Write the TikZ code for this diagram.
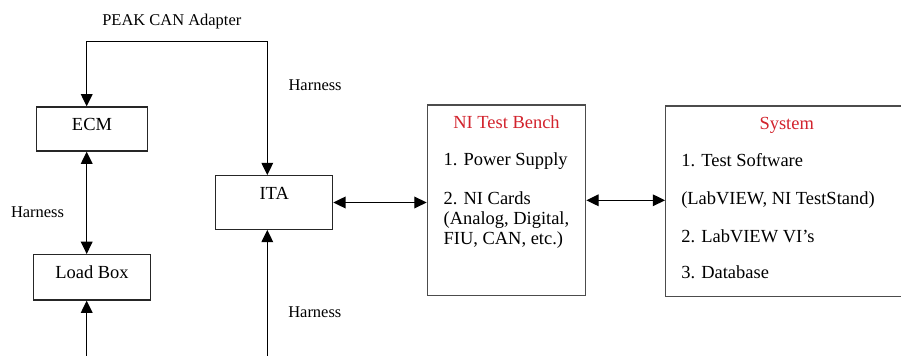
\documentclass[tikz,border=0pt]{standalone}
\usepackage{fontspec}
\setmainfont{Liberation Serif}
\usepackage{xcolor}
\usetikzlibrary{arrows.meta, calc}
\definecolor{benchred}{RGB}{210,35,45}

\begin{document}
\begin{tikzpicture}[x=0.65pt, y=-0.65pt,
  box/.style={draw=black!85, line width=0.8pt, inner sep=0pt,
    font=\fontsize{12}{14}\selectfont, text height=15.4pt},
  panel/.style={draw=black!70, line width=0.8pt, inner sep=0pt},
  lbl/.style={font=\fontsize{10.7}{12}\selectfont, anchor=base west, inner sep=0pt},
  item/.style={font=\fontsize{12}{14}\selectfont, anchor=base west, inner sep=0pt},
  head/.style={item, anchor=base, text=benchred},
  link/.style={line width=0.8pt,
    {Triangle[length=8pt,width=7.6pt]}-{Triangle[length=8pt,width=7.6pt]}},
  feed/.style={line width=0.8pt, -{Triangle[length=8pt,width=7.6pt]}}
]
  \useasboundingbox (0,0) rectangle (901,356);
  \clip (0,0) rectangle (901,356);

  % Left column: ECM above the load box
  \node[box, minimum width=71.9pt, minimum height=28.6pt, text depth=13.2pt] (ecm) at (92,129) {ECM};
  \node[box, minimum width=76.3pt, minimum height=29.5pt, text depth=14.1pt] (load) at (92,277.3) {Load Box};

  % Interface test adapter
  \node[box, minimum width=76pt, minimum height=34.8pt, text depth=19.4pt] (ita) at (274.2,202.5) {ITA};

  % NI test bench
  \node[panel, minimum width=103pt, minimum height=124pt] (bench) at (506.5,200.3) {};
  \node[head] (benchhead) at (506.5,128.3) {NI Test Bench};
  \node[item] (bench1) at (443.3,165.7) {1. Power Supply};
  \node[item] (bench2) at (443.3,204.3) {2. NI Cards};
  \node[item] (bench3) at (443.3,224.6) {(Analog, Digital,};
  \node[item] (bench4) at (443.3,245) {FIU, CAN, etc.)};

  % System, runs past the right edge
  \node[panel, minimum width=156.8pt, minimum height=124pt] (sys) at (786.3,201.3) {};
  \node[head] (syshead) at (786.7,129.3) {System};
  \node[item] (sys1) at (681,166.7) {1. Test Software};
  \node[item] (sys2) at (681,205) {(LabVIEW, NI TestStand)};
  \node[item] (sys3) at (681,242.3) {2. LabVIEW VI’s};
  \node[item] (sys4) at (681,279) {3. Database};

  % Labels on the links
  \node[lbl] (peaklbl) at (102,25.3) {PEAK CAN Adapter};
  \node[lbl] (harnesstop) at (288.3,91) {Harness};
  \node[lbl] (harnessleft) at (10.7,217.3) {Harness};
  \node[lbl] (harnessbot) at (288,317.3) {Harness};

  % Links
  \coordinate (peakL) at (86.7,41.3);
  \coordinate (peakR) at (267.3,41.3);
  \coordinate (loadfeed) at (86.7,362);
  \coordinate (itafeed) at (267.3,362);
  \draw[link] (ecm.north -| peakL) -- (peakL) -- (peakR) -- (ita.north -| peakR);
  \draw[link] (ecm.south -| peakL) -- (load.north -| peakL);
  \draw[feed] (loadfeed) -- (load.south -| loadfeed);
  \draw[feed] (itafeed) -- (ita.south -| itafeed);
  \draw[link] (ita.east) -- (ita.east -| bench.west);
  \draw[link] (bench.east) -- (bench.east -| sys.west);
\end{tikzpicture}
\end{document}
